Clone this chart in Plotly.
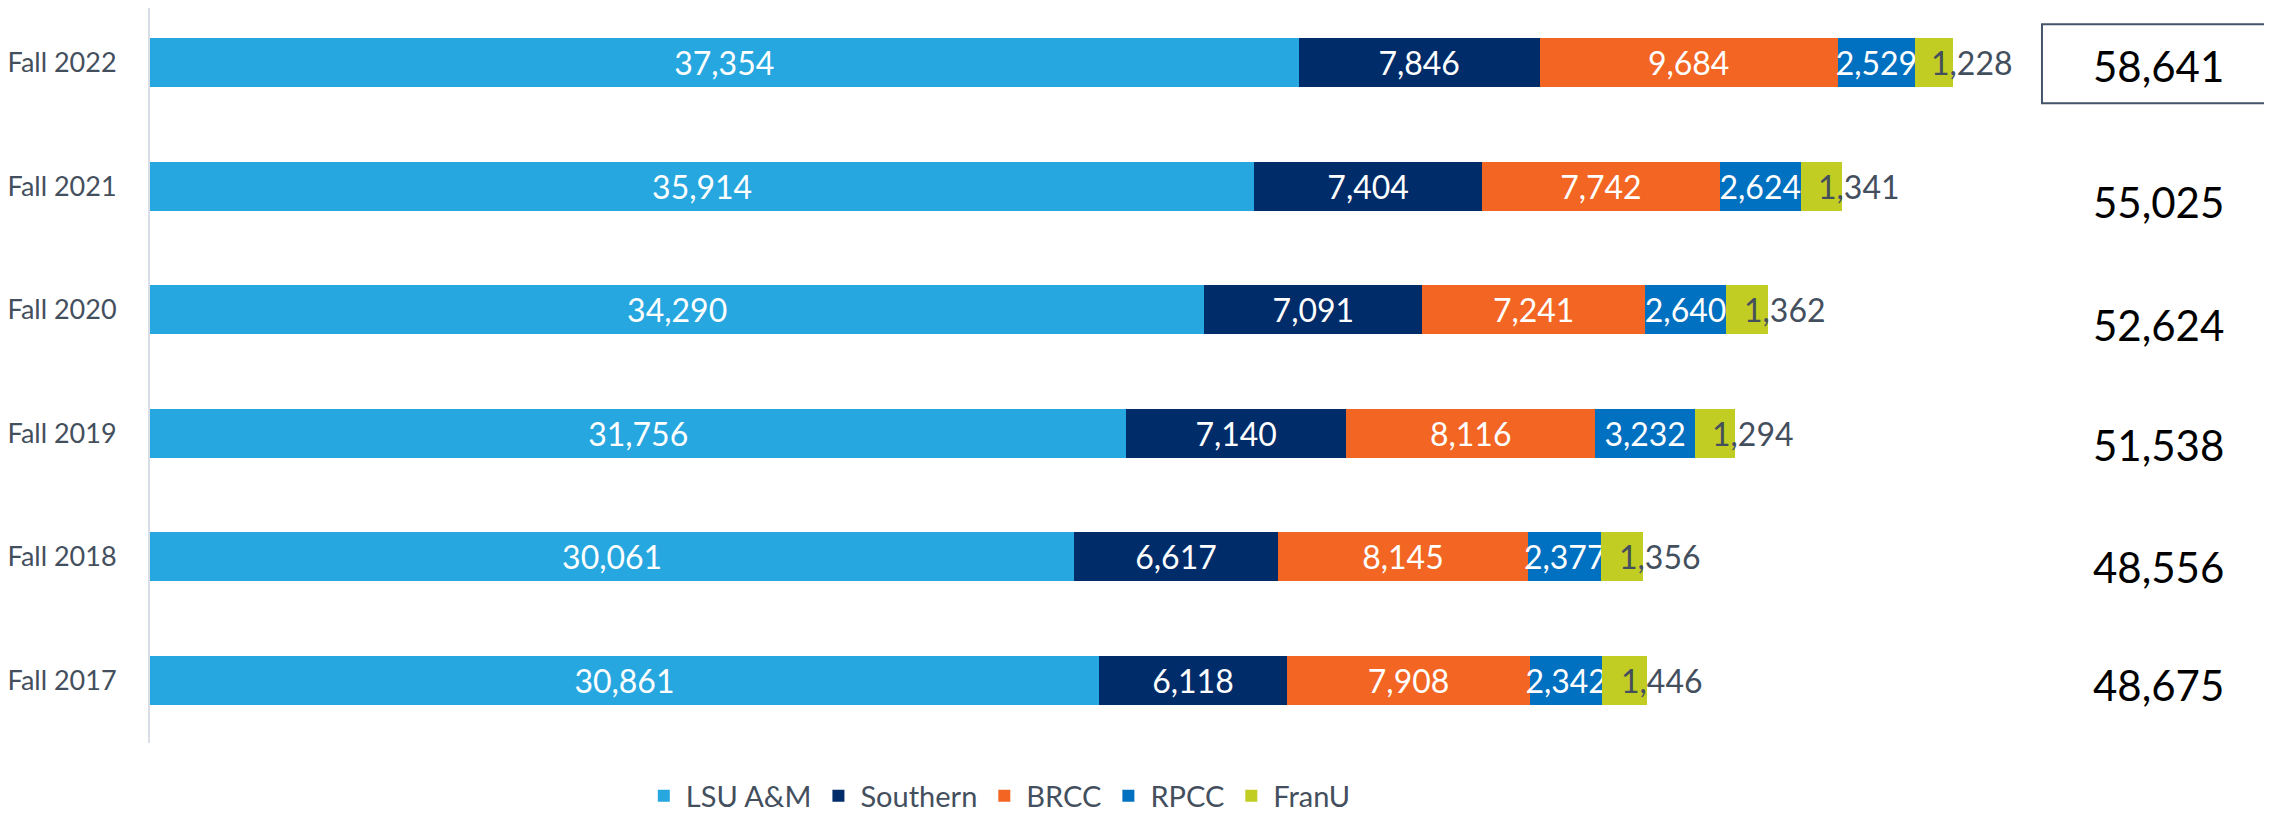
import plotly.graph_objects as go

# ---- data ----
terms = ["Fall 2022", "Fall 2021", "Fall 2020", "Fall 2019", "Fall 2018", "Fall 2017"]
lsu = [37354, 35914, 34290, 31756, 30061, 30861]
southern = [7846, 7404, 7091, 7140, 6617, 6118]
brcc = [9684, 7742, 7241, 8116, 8145, 7908]
rpcc = [2529, 2624, 2640, 3232, 2377, 2342]
franu = [1228, 1341, 1362, 1294, 1356, 1446]
series_names = ["LSU A&M", "Southern", "BRCC", "RPCC", "FranU"]
series_values = [lsu, southern, brcc, rpcc, franu]
colors = ["#26A7DF", "#002C6A", "#F26522", "#0070C0", "#C1CD23"]

FONT = "Lato"
GREY = "#444F5E"

fig = go.Figure()
for name, vals, col in zip(series_names, series_values, colors):
    is_last = name == "FranU"
    fig.add_trace(go.Bar(
        y=terms, x=vals, name=name, orientation="h",
        marker=dict(color=col, line=dict(width=0)),
        text=None if is_last else [f"{v:,}" for v in vals],
        textposition="none" if is_last else "inside",
        insidetextanchor="middle",
        textangle=0,
        constraintext="none",
        textfont=dict(family=FONT, size=32, color="white"),
        hoverinfo="x+name",
    ))

# FranU labels (start near the middle of the segment, overflowing to the right)
for i, t in enumerate(terms):
    start = lsu[i] + southern[i] + brcc[i] + rpcc[i]
    fig.add_annotation(x=start + franu[i] / 2, y=t, xref="x", yref="y",
                       text=f"{franu[i]:,}", showarrow=False, xanchor="left",
                       xshift=-5, font=dict(family=FONT, size=32, color=GREY))

# totals
totals = [sum(s[i] for s in series_values) for i in range(len(terms))]
yshifts = [-3, -16, -15, -12, -10, -5]
for i, t in enumerate(terms):
    fig.add_annotation(x=0.9463, y=t, xref="paper", yref="y",
                       text=f"{totals[i]:,}", showarrow=False,
                       xanchor="center", yshift=yshifts[i],
                       font=dict(family=FONT, size=42, color="black"))

# box around latest total
fig.add_shape(type="rect", xref="paper", yref="y", x0=0.8916, x1=1.02,
              y0=-0.31, y1=0.33, line=dict(color="#44546A", width=2),
              fillcolor="rgba(0,0,0,0)")

fig.update_layout(
    width=2264, height=806,
    margin=dict(l=142, r=0, t=0, b=71, autoexpand=False),
    barmode="stack", bargap=0.604,
    paper_bgcolor="white", plot_bgcolor="white",
    font=dict(family=FONT, color=GREY),
    showlegend=True,
    legend=dict(orientation="h", x=0.4, xanchor="center", y=-0.0721,
                yanchor="middle", traceorder="normal",
                font=dict(family=FONT, size=29, color=GREY),
                itemwidth=34, bgcolor="rgba(0,0,0,0)"),
    xaxis=dict(range=[0, 69015], visible=False, showgrid=False, zeroline=False),
    yaxis=dict(categoryorder="array", categoryarray=terms,
               range=[5.506, -0.441], autorange=False,
               showline=True, linecolor="#D9DEE6", linewidth=2,
               showgrid=False, zeroline=False, automargin=False,
               ticks="outside", ticklen=26, tickcolor="rgba(0,0,0,0)",
               tickfont=dict(family=FONT, size=27, color=GREY)),
)

fig.write_html("out.html")
